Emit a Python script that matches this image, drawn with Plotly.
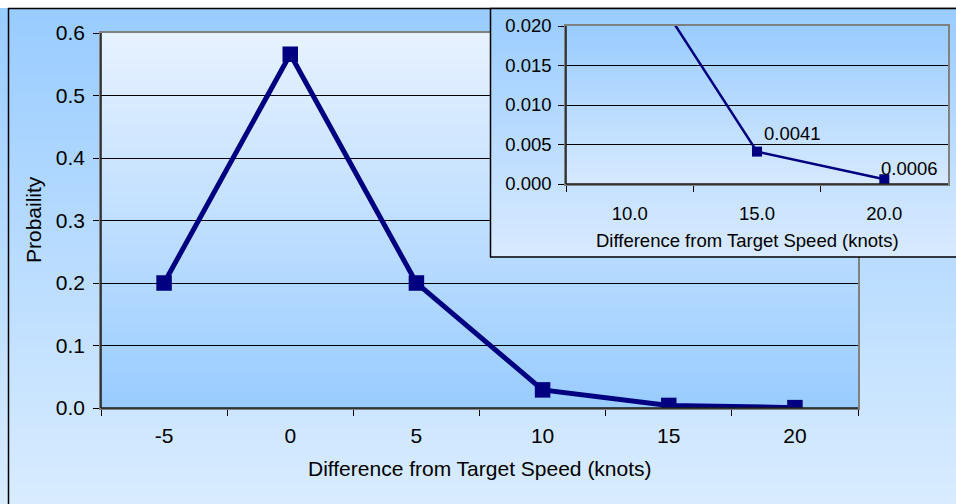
import numpy as np
import plotly.graph_objects as go

# Speed deviation categories (knots) and their probabilities
speed = [-5, 0, 5, 10, 15, 20]
prob = [0.2, 0.566, 0.2, 0.029, 0.0041, 0.0006]

main_cats = [str(s) for s in speed]
inset_cats = [f"{s:.1f}" for s in speed]
labelled = [15, 20]  # points annotated in the zoomed panel

x_title = "Difference from Target Speed (knots)"
y_title = "Probaility"

W, H = 956, 504
FONT = "Liberation Sans, Arial, sans-serif"
NAVY = "#000080"
MAIN_FS = 21
INSET_FS = 18.5


def px_x(p):
    return p / W


def px_y(p):
    return 1 - p / H


def gradient(x0, x1, y0, y1, top, bottom, xa, ya, n=160):
    edges = np.linspace(y0, y1, n + 1)
    z = [[i / (n - 1)] for i in range(n)]
    return go.Heatmap(
        x=[x0, x1], y=edges, z=z, xaxis=xa, yaxis=ya,
        colorscale=[[0, top], [1, bottom]], zmin=0, zmax=1,
        showscale=False, hoverinfo="skip", zsmooth=False,
    )


fig = go.Figure()

# --- layer 1: chart background (pixel-space axes) ---
fig.add_trace(gradient(0, W, 8, 540, "#99CCFF", "#DDEEFF", "x", "y"))
fig.add_trace(gradient(101, 858, 33, 408, "#E7F2FF", "#99CCFF", "x", "y"))
fig.add_trace(go.Scatter(x=[8.5, 8.5, 1000], y=[600, 8.5, 8.5], mode="lines",
                         line=dict(color="black", width=1.5), xaxis="x", yaxis="y",
                         hoverinfo="skip", showlegend=False))

# --- layer 2: main chart ---
fig.add_trace(go.Scatter(
    x=main_cats, y=prob, mode="lines+markers", xaxis="x2", yaxis="y2",
    line=dict(color=NAVY, width=5),
    marker=dict(symbol="square", size=15.5, color=NAVY),
    showlegend=False,
))

# --- layer 3: inset background ---
fig.add_trace(gradient(490, 1000, 8, 257, "#99CCFF", "#D8EAFF", "x3", "y3"))
fig.add_trace(gradient(566, 948, 26, 184, "#99CCFF", "#D6E9FF", "x3", "y3"))
fig.add_trace(go.Scatter(x=[1000, 490.5, 490.5, 1000], y=[257, 257, 8.5, 8.5], mode="lines",
                         line=dict(color="black", width=1.5), xaxis="x3", yaxis="y3",
                         hoverinfo="skip", showlegend=False))

# --- layer 4: zoomed inset ---
fig.add_trace(go.Scatter(
    x=inset_cats, y=prob, mode="lines+markers", xaxis="x4", yaxis="y4",
    line=dict(color=NAVY, width=2.5),
    marker=dict(symbol="square", size=10, color=NAVY),
    showlegend=False,
))

bg_axis = dict(visible=False, fixedrange=True, showgrid=False, zeroline=False)

main_dom_x = [px_x(101), px_x(858)]
main_dom_y = [px_y(408), px_y(33)]
ins_dom_x = [px_x(566), px_x(948)]
ins_dom_y = [px_y(184), px_y(26)]

GRAY = "#808080"
frame = dict(showline=True, mirror=True, linecolor=GRAY, linewidth=1.5)

fig.update_layout(
    width=W, height=H,
    margin=dict(l=0, r=0, t=0, b=0, pad=0, autoexpand=False),
    paper_bgcolor="white",
    plot_bgcolor="rgba(0,0,0,0)",
    font=dict(family=FONT, color="black"),
    xaxis=dict(domain=[0, 1], range=[0, W], anchor="y", **bg_axis),
    yaxis=dict(domain=[0, 1], range=[H, 0], anchor="x", **bg_axis),
    xaxis3=dict(domain=[0, 1], range=[0, W], anchor="y3", **bg_axis),
    yaxis3=dict(domain=[0, 1], range=[H, 0], anchor="x3", **bg_axis),
    xaxis2=dict(
        domain=main_dom_x, anchor="y2", type="category", range=[-0.5, 5.5],
        tickson="boundaries", ticks="outside", ticklen=6, tickcolor="black",
        showgrid=False, tickfont=dict(size=MAIN_FS), ticklabelstandoff=8, **frame,
    ),
    yaxis2=dict(
        domain=main_dom_y, anchor="x2", range=[0, 0.6], dtick=0.1, tickformat=".1f",
        ticks="outside", ticklen=6, tickcolor="black",
        showgrid=True, gridcolor="black", gridwidth=1, zeroline=False,
        tickfont=dict(size=MAIN_FS), ticklabelstandoff=4, **frame,
    ),
    xaxis4=dict(
        domain=ins_dom_x, anchor="y4", type="category", range=[2.5, 5.5],
        categoryorder="array", categoryarray=inset_cats,
        tickson="boundaries", ticks="outside", ticklen=6, tickcolor="black",
        showgrid=False, tickfont=dict(size=INSET_FS), ticklabelstandoff=12, **frame,
    ),
    yaxis4=dict(
        domain=ins_dom_y, anchor="x4", range=[0, 0.02], dtick=0.005, tickformat=".3f",
        ticks="outside", ticklen=6, tickcolor="black",
        showgrid=True, gridcolor="black", gridwidth=1, zeroline=False,
        tickfont=dict(size=INSET_FS), ticklabelstandoff=3, **frame,
    ),
)

# dark left / bottom axis lines over the grey frames
edge = dict(color="#1a1a1a", width=1.5)
shapes = []
for dx, dy in ((main_dom_x, main_dom_y), (ins_dom_x, ins_dom_y)):
    shapes.append(dict(type="line", xref="paper", yref="paper", x0=dx[0], x1=dx[0],
                       y0=dy[0], y1=dy[1], line=edge, layer="above"))
    shapes.append(dict(type="line", xref="paper", yref="paper", x0=dx[0], x1=dx[1],
                       y0=dy[0], y1=dy[0], line=edge, layer="above"))
fig.update_layout(shapes=shapes)

annotations = [
    dict(text=x_title, xref="paper", yref="paper", x=px_x(480), y=px_y(468),
         showarrow=False, font=dict(size=MAIN_FS), xanchor="center", yanchor="middle"),
    dict(text=y_title, xref="paper", yref="paper", x=px_x(33), y=px_y(220),
         showarrow=False, font=dict(size=MAIN_FS), textangle=-90,
         xanchor="center", yanchor="middle"),
    dict(text=x_title, xref="paper", yref="paper", x=px_x(747), y=px_y(240),
         showarrow=False, font=dict(size=INSET_FS), xanchor="center", yanchor="middle"),
]
# value labels: annotation x on a category axis is the category's serial index
shifts = {15: (5, 6), 20: (-5, -2)}
for idx, (s, p) in enumerate(zip(speed, prob)):
    if s in labelled:
        dx, dy = shifts[s]
        annotations.append(dict(
            text=f"{p:.4f}", x=idx, y=p, xref="x4", yref="y4", showarrow=False,
            xanchor="left", yanchor="bottom", xshift=dx, yshift=dy,
            font=dict(size=INSET_FS),
        ))
fig.update_layout(annotations=annotations)

fig.write_html("out.html")
